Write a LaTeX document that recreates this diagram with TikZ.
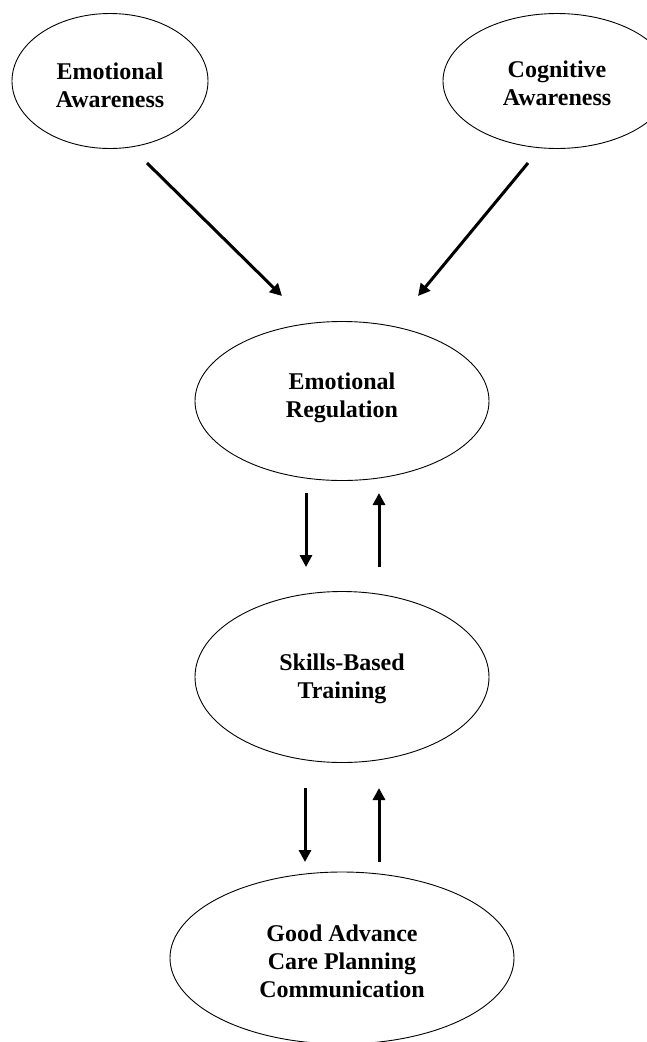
\documentclass[tikz,border=0pt]{standalone}
\usepackage{fontspec}
\setmainfont{Liberation Serif}
\usetikzlibrary{shapes.geometric,arrows.meta}
\tikzset{
  oval/.style={ellipse, draw=black, line width=0.9pt, inner sep=0pt},
  ovaltext/.style={align=center, inner sep=0pt,
    font=\fontsize{24}{28}\selectfont\bfseries},
  flow/.style={line width=3pt, -{Triangle[length=12pt,width=12pt]}}
}
\begin{document}
\begin{tikzpicture}[x=1pt,y=-1pt]
\useasboundingbox (0,0) rectangle (647,1042);
\node[oval, minimum width=196pt, minimum height=135pt] (ea) at (110,81) {};
\node[oval, minimum width=228pt, minimum height=135pt] (ca) at (557,81) {};
\node[oval, minimum width=294pt, minimum height=159pt] (er) at (342,401) {};
\node[oval, minimum width=294pt, minimum height=171pt] (sb) at (342,677) {};
\node[oval, minimum width=344pt, minimum height=172pt] (gc) at (342,958) {};
\node[ovaltext] (ea-t) at ([yshift=-4pt]ea.center) {Emotional\\Awareness};
\node[ovaltext] (ca-t) at ([yshift=-2pt]ca.center) {Cognitive\\Awareness};
\node[ovaltext] (er-t) at ([yshift=3pt]er.center) {Emotional\\Regulation};
\node[ovaltext] (sb-t) at ([yshift=-2pt]sb.center) {Skills-Based\\Training};
\node[ovaltext] (gc-t) at ([yshift=-3pt]gc.center) {Good Advance\\Care Planning\\Communication};
% arrow end points
\coordinate (ea-s) at (147,163);
\coordinate (ea-e) at (282,296);
\coordinate (ca-s) at (528,163);
\coordinate (ca-e) at (418,296);
\coordinate (er-d1) at (306,493);
\coordinate (sb-d1) at (306,567);
\coordinate (sb-u1) at (379,567);
\coordinate (er-u1) at (379,493);
\coordinate (sb-d2) at (305,788);
\coordinate (gc-d2) at (305,862);
\coordinate (gc-u2) at (379,862);
\coordinate (sb-u2) at (379,788);
\draw[flow] (ea-s) -- (ea-e);
\draw[flow] (ca-s) -- (ca-e);
\draw[flow] (er-d1) -- (sb-d1);
\draw[flow] (sb-u1) -- (er-u1);
\draw[flow] (sb-d2) -- (gc-d2);
\draw[flow] (gc-u2) -- (sb-u2);
\end{tikzpicture}
\end{document}
